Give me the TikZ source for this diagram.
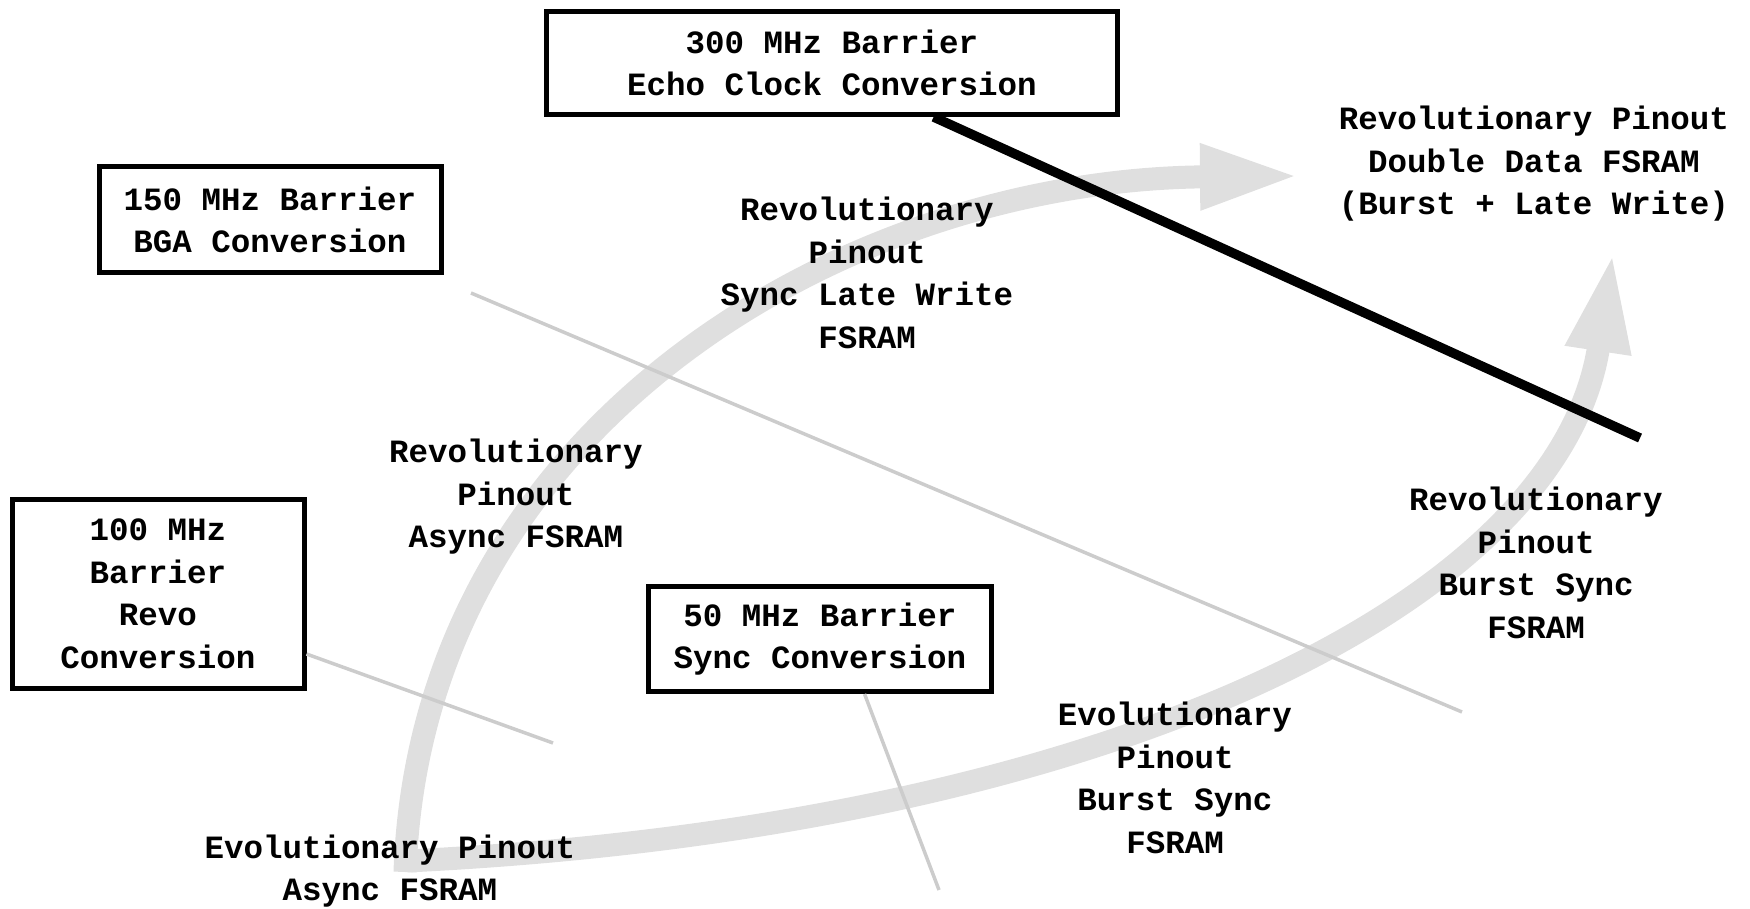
\documentclass[tikz,border=0pt]{standalone}
\usepackage{fontspec}
\setmonofont{Liberation Mono}
\usetikzlibrary{arrows.meta, calc}

\newcommand{\barrierfont}{\ttfamily\bfseries\fontsize{32.5}{42.5}\selectfont}

\begin{document}
\begin{tikzpicture}[x=1pt, y=-1pt,
    barrier/.style={rectangle, draw=black, line width=5pt, align=center, font=\barrierfont, inner sep=0pt},
    tag/.style={align=center, font=\barrierfont, inner sep=0pt},
    band/.style={draw=gray!25, line width=23pt, -{Triangle[length=100pt, width=60pt]}},
    guide/.style={draw=gray!40, line width=3.5pt},
    edge/.style={draw=black, line width=9.5pt}
]
    \useasboundingbox (0,0) rectangle (1750,909);

    % Free ends
    \coordinate (revoStart) at (405,872);
    \coordinate (evoStart) at (407,861);
    \coordinate (revoTip) at (1300,176);
    \coordinate (evoTip) at (1613,252);
    \coordinate (guideA) at (471,293);
    \coordinate (guideB) at (1462,712);
    \coordinate (revoEnd) at (553,743);
    \coordinate (syncEnd) at (939,890);
    \coordinate (echoEnd) at (1640,438);

    % Roadmap arrows
    \draw[band] (revoStart) .. controls (420,430) and (840,180) .. (revoTip);
    \draw[band] (evoStart) .. controls (1107,827) and (1560,602) .. (evoTip);

    % Nodes
    \node[barrier, minimum width=571pt, minimum height=103pt] (mhz300) at (832,63) {300 MHz Barrier\\Echo Clock Conversion};
    \node[barrier, minimum width=342pt, minimum height=106pt] (mhz150) at (270,220) {150 MHz Barrier\\BGA Conversion};
    \node[barrier, minimum width=292pt, minimum height=189pt] (mhz100) at (158,594) {100 MHz\\Barrier\\Revo\\Conversion};
    \node[barrier, minimum width=343pt, minimum height=105pt] (mhz50) at (820,639) {50 MHz Barrier\\Sync Conversion};

    \node[tag] (doubleData) at (1534,164) {Revolutionary Pinout\\Double Data FSRAM\\(Burst + Late Write)};
    \node[tag] (lateWrite) at (867,273) {Revolutionary\\Pinout\\Sync Late Write\\FSRAM};
    \node[tag] (revoAsync) at (516,497) {Revolutionary\\Pinout\\Async FSRAM};
    \node[tag] (revoBurst) at (1536,563) {Revolutionary\\Pinout\\Burst Sync\\FSRAM};
    \node[tag] (evoBurst) at (1175,778) {Evolutionary\\Pinout\\Burst Sync\\FSRAM};
    \node[tag] (evoAsync) at (390,871) {Evolutionary Pinout\\Async FSRAM};

    % Barrier lines
    \draw[guide] (guideA) -- (guideB);
    \draw[guide] (mhz100.-22) -- (revoEnd);
    \draw[guide] (mhz50.-51) -- (syncEnd);
    \draw[edge] (mhz300.-28) -- (echoEnd);
\end{tikzpicture}
\end{document}
